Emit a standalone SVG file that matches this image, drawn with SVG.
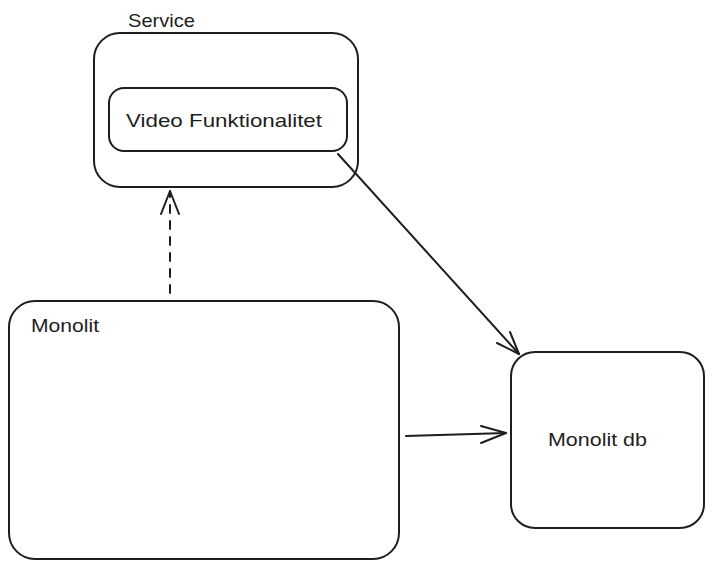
<svg xmlns="http://www.w3.org/2000/svg" width="714" height="568" viewBox="0 0 714 568">
<style>
.box{fill:#fff;stroke:#1e1e1e;stroke-width:2}
.lbl{font-family:"Liberation Sans",Arial,sans-serif;font-size:19px;fill:#1e1e1e}
.edge{fill:none;stroke:#1e1e1e;stroke-width:2;stroke-linecap:round;stroke-linejoin:round}
</style>
<rect width="714" height="568" fill="#fff"/>
<g id="service">
<rect class="box" x="94" y="33" width="264" height="154" rx="26"/>
<text class="lbl" x="128" y="27" textLength="67" lengthAdjust="spacingAndGlyphs">Service</text>
</g>
<g id="video">
<rect class="box" x="109" y="88" width="238" height="63" rx="15"/>
<text class="lbl" x="126" y="127" textLength="196" lengthAdjust="spacingAndGlyphs">Video Funktionalitet</text>
</g>
<g id="monolit">
<rect class="box" x="9" y="301" width="390" height="258" rx="26"/>
<text class="lbl" x="31" y="332" textLength="68" lengthAdjust="spacingAndGlyphs">Monolit</text>
</g>
<g id="monolitdb">
<rect class="box" x="511" y="352" width="193" height="176" rx="24"/>
<text class="lbl" x="548" y="446" textLength="99" lengthAdjust="spacingAndGlyphs">Monolit db</text>
</g>
<g id="connectors">
<path class="edge" d="M170 293 L170 191" stroke-dasharray="8 8"/>
<path class="edge" d="M161 214 L170 191 L179 214"/>
<path class="edge" d="M338 154 L519 354"/>
<path class="edge" d="M497 343 L519 354 L510 332"/>
<path class="edge" d="M406 436 L506 433"/>
<path class="edge" d="M481 426 L506 433 L481 443"/>
</g>
</svg>
